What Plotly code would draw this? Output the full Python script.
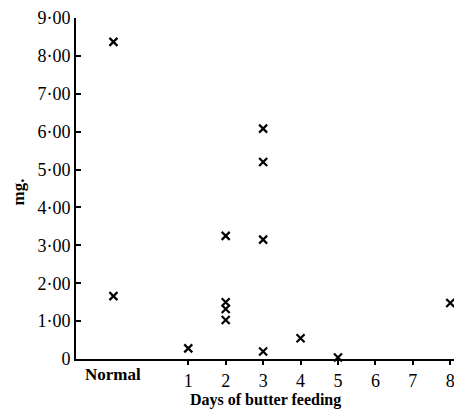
import plotly.graph_objects as go

# Data (x = -1 means "Normal")
normal_vals = [8.37, 1.66]
day1_vals = [0.28]
day2_vals = [3.25, 1.50, 1.32, 1.03]
day3_vals = [6.08, 5.20, 3.15, 0.20]
day4_vals = [0.55]
day5_vals = [0.04]
day8_vals = [1.48]

groups = [(-1, normal_vals), (1, day1_vals), (2, day2_vals), (3, day3_vals),
          (4, day4_vals), (5, day5_vals), (8, day8_vals)]

x_ticks = [1, 2, 3, 4, 5, 6, 7, 8]
x_tick_labels = ["1", "2", "3", "4", "5", "6", "7", "8"]
y_ticks = [0, 1, 2, 3, 4, 5, 6, 7, 8, 9]
y_tick_labels = ["0", "1·00", "2·00", "3·00", "4·00", "5·00", "6·00", "7·00", "8·00", "9·00"]

xs, ys = [], []
for gx, vals in groups:
    for v in vals:
        xs.append(gx)
        ys.append(v)

serif = "Liberation Serif, Times New Roman, serif"

fig = go.Figure()
fig.add_trace(go.Scatter(
    x=xs, y=ys, mode="markers",
    marker=dict(symbol="x-thin", size=8, line=dict(width=2.2, color="black"), color="black"),
    showlegend=False, cliponaxis=False,
))

fig.update_layout(
    width=454, height=418,
    margin=dict(l=76, r=0, t=18, b=59, autoexpand=False),
    paper_bgcolor="white", plot_bgcolor="white",
    font=dict(family=serif, size=15, color="black"),
    xaxis=dict(
        range=[-2, 8.1], tickvals=x_ticks, ticktext=x_tick_labels,
        ticks="outside", ticklen=4, tickwidth=1.5, tickcolor="black",
        showline=True, linecolor="black", linewidth=2, automargin=False,
        ticklabeloverflow="allow",
        showgrid=False, zeroline=False, tickfont=dict(size=18),
    ),
    yaxis=dict(
        range=[0, 9], tickvals=y_ticks, ticktext=y_tick_labels,
        ticks="inside", ticklen=5, tickwidth=1.5, tickcolor="black",
        showline=True, linecolor="black", linewidth=2, automargin=False,
        ticklabeloverflow="allow",
        showgrid=False, zeroline=False, tickfont=dict(size=18),
    ),
    annotations=[
        dict(x=-1, y=0, xref="x", yref="paper", text="<b>Normal</b>", showarrow=False,
             yanchor="top", yshift=-4, font=dict(size=17)),
        dict(x=0.5, y=0, xref="paper", yref="paper", text="<b>Days of butter feeding</b>",
             showarrow=False, yanchor="top", yshift=-30, font=dict(size=16)),
        dict(x=-0.152, y=0.49, xref="paper", yref="paper", text="<b>mg.</b>", showarrow=False,
             xanchor="center", yanchor="middle", textangle=-90, font=dict(size=17)),
    ],
)

fig.write_html("out.html", config={"displayModeBar": False},
               post_script="document.body.style.margin='0';")
